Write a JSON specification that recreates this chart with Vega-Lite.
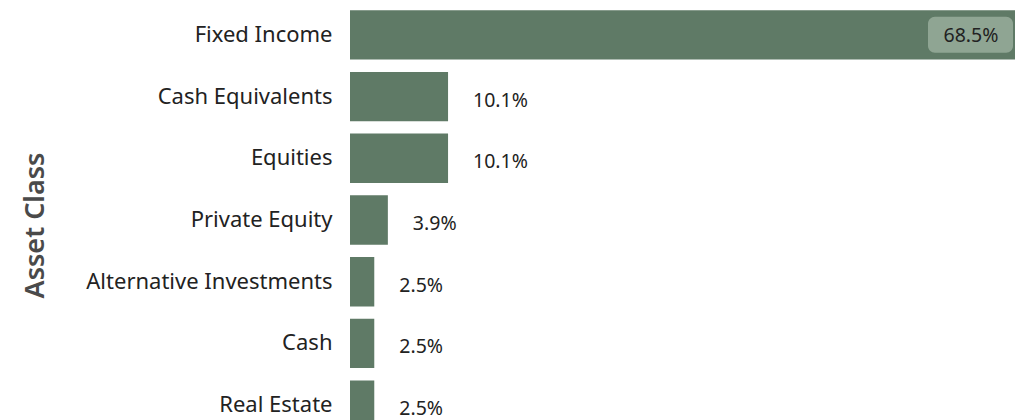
{
  "$schema": "https://vega.github.io/schema/vega-lite/v6.json",
  "autosize": {"type": "none"},
  "width": 665,
  "height": 432,
  "padding": {"left": 350, "top": 4, "right": 3, "bottom": 0},
  "background": "white",
  "config": {
    "view": {"stroke": null},
    "font": "Noto Sans"
  },
  "data": {
    "values": [
      {"asset": "Fixed Income", "value": 0.685},
      {"asset": "Cash Equivalents", "value": 0.101},
      {"asset": "Equities", "value": 0.101},
      {"asset": "Private Equity", "value": 0.039},
      {"asset": "Alternative Investments", "value": 0.025},
      {"asset": "Cash", "value": 0.025},
      {"asset": "Real Estate", "value": 0.025}
    ]
  },
  "encoding": {
    "y": {
      "field": "asset",
      "type": "nominal",
      "sort": null,
      "scale": {"paddingInner": 0.2, "paddingOuter": 0.1},
      "axis": {
        "title": "Asset Class",
        "titleFontSize": 27,
        "titleFontWeight": 600,
        "titleColor": "#4a4a4a",
        "titleX": -315,
        "titleY": 221,
        "titleAngle": -90,
        "titleAlign": "center",
        "titleBaseline": "middle",
        "labelFontSize": 22,
        "labelColor": "#222222",
        "labelPadding": 18,
        "labelLimit": 400,
        "ticks": false,
        "domain": false,
        "labelFont": "Noto Sans",
        "titleFont": "Noto Sans"
      }
    },
    "x": {
      "field": "value",
      "type": "quantitative",
      "scale": {"domain": [0, 0.685], "nice": false},
      "axis": null
    }
  },
  "layer": [
    {"mark": {"type": "bar", "color": "#5f7a66"}},
    {
      "transform": [{"filter": "datum.value < 0.5"}],
      "mark": {"type": "text", "align": "left", "baseline": "middle", "dx": 25, "dy": 4, "fontSize": 19.5, "color": "#222222"},
      "encoding": {"text": {"field": "value", "type": "quantitative", "format": ".1%"}}
    },
    {
      "transform": [{"filter": "datum.value >= 0.5"}],
      "mark": {"type": "bar", "color": "#8fa593", "cornerRadius": 7, "height": 36, "xOffset": -87, "x2Offset": -2},
      "encoding": {"x2": {"field": "value"}}
    },
    {
      "transform": [{"filter": "datum.value >= 0.5"}],
      "mark": {"type": "text", "align": "center", "baseline": "middle", "dx": -44, "dy": 1, "fontSize": 19.5, "color": "#222222"},
      "encoding": {"text": {"field": "value", "type": "quantitative", "format": ".1%"}}
    }
  ]
}
